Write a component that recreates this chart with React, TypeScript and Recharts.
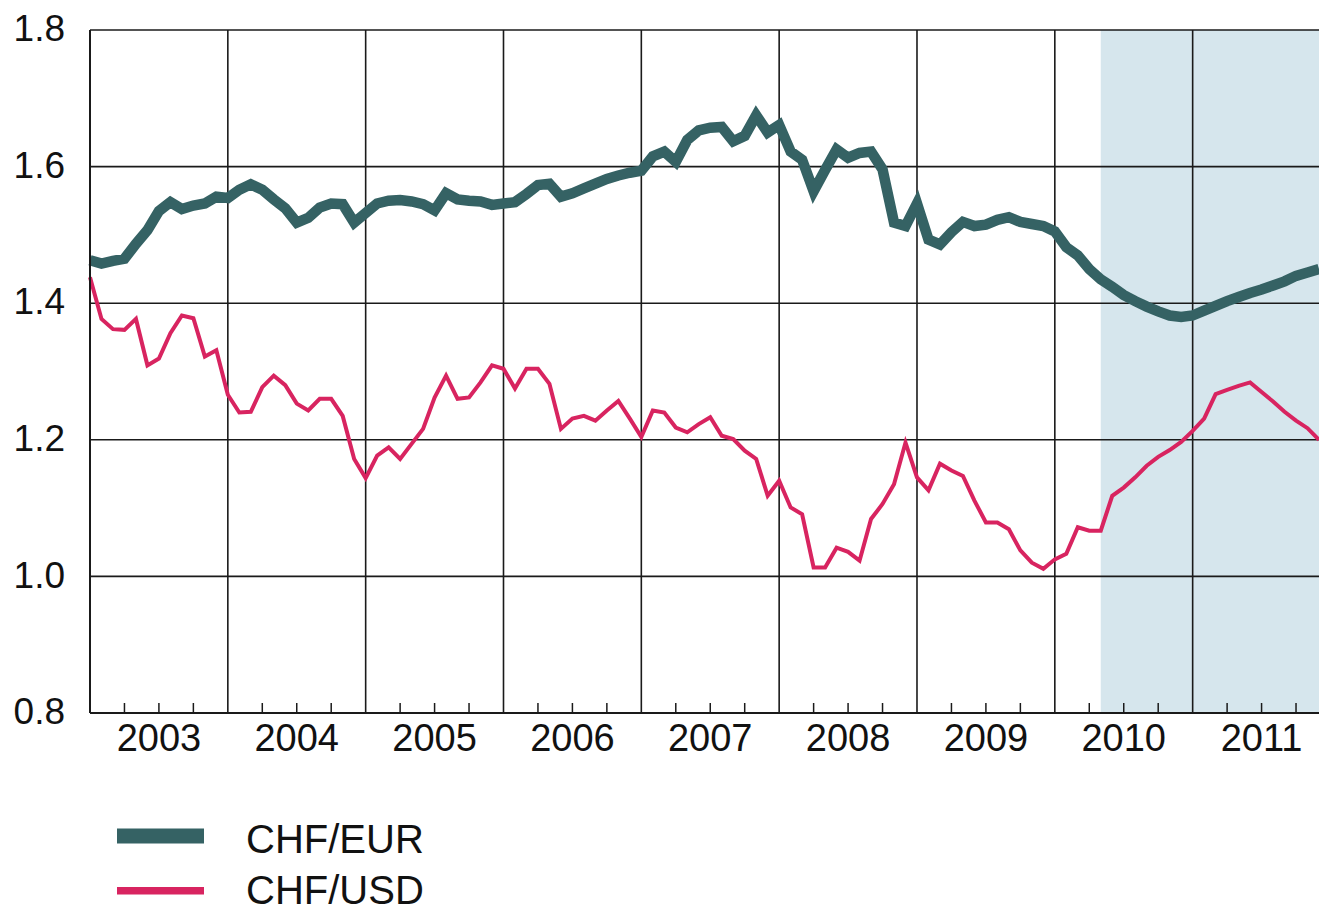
import React from 'react';
import { ComposedChart, Line, XAxis, YAxis, ReferenceLine, ReferenceArea } from 'recharts';

// monthly data, Jan 2003 .. Dec 2011
const years = [2003, 2004, 2005, 2006, 2007, 2008, 2009, 2010, 2011];

const chfEur = [
  1.463, 1.458, 1.462, 1.465, 1.487, 1.507, 1.535, 1.548, 1.538, 1.543, 1.546, 1.556,
  1.554, 1.566, 1.574, 1.566, 1.552, 1.539, 1.518, 1.525, 1.540, 1.546, 1.545, 1.518,
  1.532, 1.546, 1.550, 1.551, 1.549, 1.545, 1.536, 1.561, 1.552, 1.550, 1.549, 1.544,
  1.546, 1.548, 1.560, 1.573, 1.575, 1.556, 1.561, 1.568, 1.575, 1.582, 1.587, 1.591,
  1.594, 1.615, 1.622, 1.607, 1.639, 1.653, 1.657, 1.658, 1.637, 1.645, 1.675, 1.650,
  1.661, 1.622, 1.610, 1.564, 1.595, 1.625, 1.613, 1.620, 1.622, 1.596, 1.518, 1.513,
  1.546, 1.493, 1.486, 1.504, 1.519, 1.513, 1.515, 1.522, 1.526, 1.519, 1.516, 1.513,
  1.505, 1.482, 1.470, 1.450, 1.435, 1.424, 1.412, 1.403, 1.395, 1.388, 1.382, 1.380,
  1.382, 1.389, 1.396, 1.403, 1.409, 1.415, 1.420, 1.426, 1.432, 1.440, 1.445, 1.450,
];

const chfUsd = [
  1.438, 1.377, 1.362, 1.361, 1.377, 1.309, 1.319, 1.356, 1.382, 1.378, 1.322, 1.331,
  1.266, 1.240, 1.241, 1.277, 1.294, 1.280, 1.253, 1.243, 1.260, 1.260, 1.235, 1.172,
  1.144, 1.177, 1.189, 1.172, 1.194, 1.216, 1.262, 1.294, 1.260, 1.262, 1.284, 1.309,
  1.304, 1.275, 1.304, 1.304, 1.282, 1.216, 1.231, 1.235, 1.228, 1.243, 1.257, 1.231,
  1.204, 1.243, 1.240, 1.218, 1.211, 1.223, 1.233, 1.206, 1.201, 1.184, 1.172, 1.118,
  1.140, 1.101, 1.091, 1.013, 1.013, 1.042, 1.036, 1.023, 1.084, 1.106, 1.135, 1.196,
  1.145, 1.126, 1.165, 1.155, 1.147, 1.111, 1.079, 1.079, 1.069, 1.038, 1.020, 1.011,
  1.025, 1.033, 1.072, 1.067, 1.067, 1.118, 1.130, 1.145, 1.162, 1.175, 1.185, 1.197,
  1.213, 1.231, 1.267, 1.273, 1.279, 1.284, 1.270, 1.256, 1.241, 1.228, 1.217, 1.200,
];

const yTicks = [0.8, 1.0, 1.2, 1.4, 1.6, 1.8];
const forecastStart = 88; // May 2010
const lastMonth = chfEur.length - 1;

const data = chfEur.map((v, i) => ({ m: i, eur: v, usd: chfUsd[i] }));
const yearStarts = years.slice(1).map((_, k) => (k + 1) * 12);
const quarterTicks = years.flatMap((_, k) => [k * 12 + 3, k * 12 + 6, k * 12 + 9]).filter(t => t <= lastMonth);

const FONT = '"Liberation Sans", Arial, sans-serif';
const TEAL = '#356264';
const PINK = '#d82460';
const GRID = '#1a1a1a';

const MonthTick = (props: any) => {
  const { x, y, payload } = props;
  const m = payload.value;
  return (
    <g>
      <line x1={x} x2={x} y1={y} y2={y - 10} stroke={GRID} strokeWidth={1.5} />
      {m % 12 === 6 && (
        <text x={x} y={y + 38} textAnchor="middle" fontSize={38} fontFamily={FONT} fill="#111">
          {years[Math.floor(m / 12)]}
        </text>
      )}
    </g>
  );
};

export default function App() {
  return (
    <div style={{ position: 'absolute', left: 0, top: 0, width: 1319, height: 911, background: '#fff' }}>
      <ComposedChart width={1319} height={911} data={data} margin={{ top: 30, right: 0, left: 0, bottom: 0 }}>
        <XAxis
          type="number"
          dataKey="m"
          domain={[0, lastMonth]}
          ticks={quarterTicks}
          interval={0}
          tick={<MonthTick />}
          tickLine={false}
          tickSize={0}
          tickMargin={0}
          height={198}
          axisLine={{ stroke: GRID, strokeWidth: 2 }}
        />
        <YAxis
          type="number"
          domain={[0.8, 1.8]}
          ticks={yTicks}
          interval={0}
          width={90}
          tickFormatter={(v: number) => v.toFixed(1)}
          tick={{ fontSize: 37, fontFamily: FONT, fill: '#111', dy: -2 }}
          tickLine={false}
          tickSize={0}
          tickMargin={25}
          axisLine={{ stroke: GRID, strokeWidth: 2 }}
        />
        <ReferenceArea x1={forecastStart} x2={lastMonth} fill="#d6e6ed" fillOpacity={1} stroke="none" />
        {yTicks.slice(1).map(t => (
          <ReferenceLine key={'h' + t} y={t} stroke={GRID} strokeWidth={1.6} />
        ))}
        {yearStarts.map(t => (
          <ReferenceLine key={'v' + t} x={t} stroke={GRID} strokeWidth={1.6} />
        ))}
        <Line type="linear" dataKey="eur" stroke={TEAL} strokeWidth={10.5} dot={false} activeDot={false} isAnimationActive={false} />
        <Line type="linear" dataKey="usd" stroke={PINK} strokeWidth={4} dot={false} activeDot={false} isAnimationActive={false} />
      </ComposedChart>
      <svg width={1319} height={911} style={{ position: 'absolute', left: 0, top: 0, pointerEvents: 'none' }}>
        <rect x={117} y={828.5} width={87} height={15} fill={TEAL} />
        <text x={246} y={852.5} fontSize={40} fontFamily={FONT} fill="#111">CHF/EUR</text>
        <rect x={117} y={887} width={87} height={7.5} fill={PINK} />
        <text x={246} y={904} fontSize={40} fontFamily={FONT} fill="#111">CHF/USD</text>
      </svg>
    </div>
  );
}
